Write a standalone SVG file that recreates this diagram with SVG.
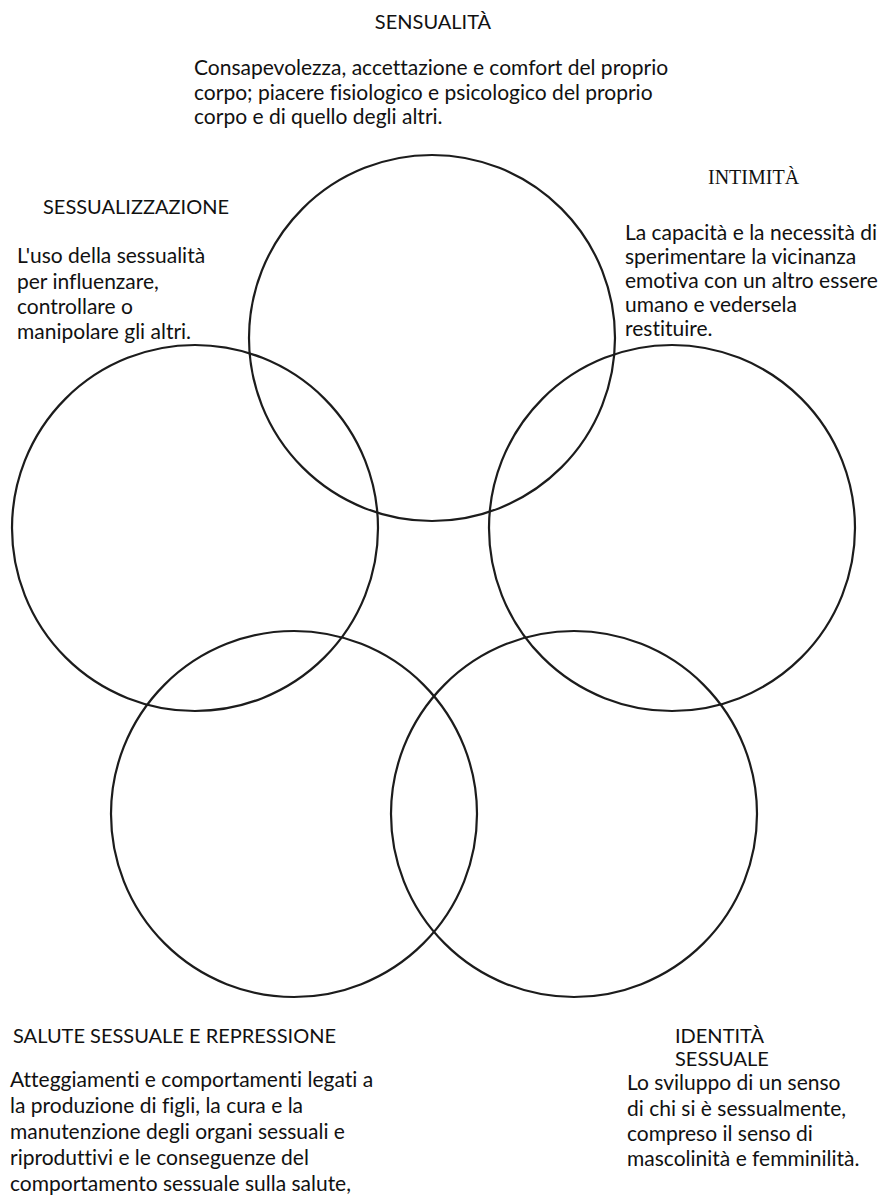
<svg xmlns="http://www.w3.org/2000/svg" width="891" height="1196" viewBox="0 0 891 1196">
<style>
.c{fill:none;stroke:#1c1c1c;stroke-width:2.2}
.h{font-family:Lato,"Open Sans","Liberation Sans",sans-serif;font-size:20px;fill:#111;font-variant-ligatures:none}
.b{font-family:Lato,"Open Sans","Liberation Sans",sans-serif;font-size:21px;fill:#111;font-variant-ligatures:none}
.s{font-family:"Liberation Serif","Times New Roman",serif;font-size:20px;fill:#111}
</style>
<rect width="891" height="1196" fill="#fff"/>
<g id="circles">
<circle id="c-sensualita" class="c" cx="432" cy="338" r="183"/>
<circle id="c-sessualizzazione" class="c" cx="195" cy="528" r="183"/>
<circle id="c-intimita" class="c" cx="672" cy="528" r="183"/>
<circle id="c-salute" class="c" cx="294" cy="814" r="183"/>
<circle id="c-identita" class="c" cx="574" cy="814" r="183"/>
</g>
<g id="sensualita">
<text class="h" x="433" y="29" text-anchor="middle">SENSUALITÀ</text>
<text class="b" x="194" y="75">Consapevolezza, accettazione e comfort del proprio</text>
<text class="b" x="194" y="100">corpo; piacere fisiologico e psicologico del proprio</text>
<text class="b" x="194" y="124">corpo e di quello degli altri.</text>
</g>
<g id="sessualizzazione">
<text class="h" x="43" y="214">SESSUALIZZAZIONE</text>
<text class="b" x="17" y="263">L'uso della sessualità</text>
<text class="b" x="17" y="289">per influenzare,</text>
<text class="b" x="17" y="314">controllare o</text>
<text class="b" x="17" y="339">manipolare gli altri.</text>
</g>
<g id="intimita">
<text class="s" x="708" y="184">INTIMITÀ</text>
<text class="b" x="625" y="240">La capacità e la necessità di</text>
<text class="b" x="625" y="264">sperimentare la vicinanza</text>
<text class="b" x="625" y="288">emotiva con un altro essere</text>
<text class="b" x="625" y="312">umano e vedersela</text>
<text class="b" x="625" y="336">restituire.</text>
</g>
<g id="salute">
<text class="h" x="13" y="1043">SALUTE SESSUALE E REPRESSIONE</text>
<text class="b" x="10" y="1087">Atteggiamenti e comportamenti legati a</text>
<text class="b" x="10" y="1113">la produzione di figli, la cura e la</text>
<text class="b" x="10" y="1139">manutenzione degli organi sessuali e</text>
<text class="b" x="10" y="1165">riproduttivi e le conseguenze del</text>
<text class="b" x="10" y="1191">comportamento sessuale sulla salute,</text>
</g>
<g id="identita">
<text class="h" x="675" y="1043">IDENTITÀ</text>
<text class="h" x="675" y="1066">SESSUALE</text>
<text class="b" x="627" y="1090">Lo sviluppo di un senso</text>
<text class="b" x="627" y="1116">di chi si è sessualmente,</text>
<text class="b" x="627" y="1141">compreso il senso di</text>
<text class="b" x="627" y="1166">mascolinità e femminilità.</text>
</g>
</svg>
